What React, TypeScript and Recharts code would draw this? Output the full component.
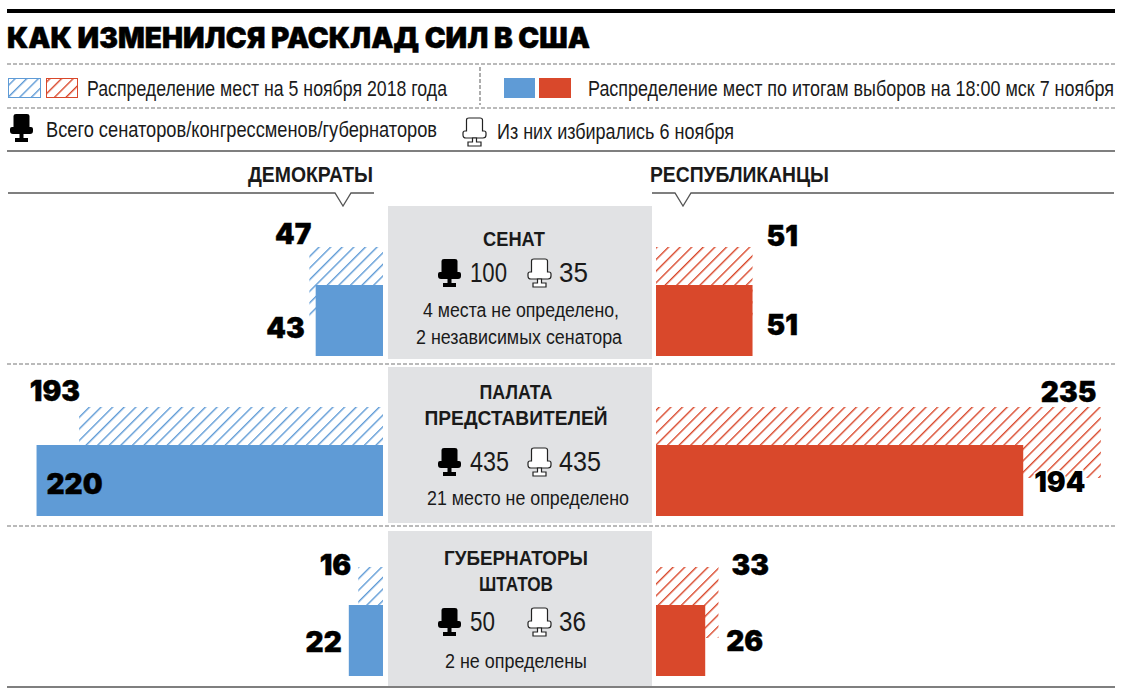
import { BarChart, Bar, XAxis, YAxis, LabelList } from "recharts";

const chambers = ["Сенат", "Палата представителей", "Губернаторы штатов"];
const demBefore = [47, 193, 16];
const demAfter = [43, 220, 22];
const repBefore = [51, 235, 33];
const repAfter = [51, 194, 26];
const panelTitles = [["СЕНАТ"], ["ПАЛАТА", "ПРЕДСТАВИТЕЛЕЙ"], ["ГУБЕРНАТОРЫ", "ШТАТОВ"]];
const totalSeats = [100, 435, 50];
const electedSeats = [35, 435, 36];
const panelNotes = [
  ["4 места не определено,", "2 независимых сенатора"],
  ["21 место не определено"],
  ["2 не определены"],
];

const BLUE = "#5f9bd6";
const RED = "#d9482b";
const PANEL = "#e1e2e4";
// no narrow face is installed, so the condensed look comes from a horizontal squeeze
const BODY = "'Liberation Sans', sans-serif";
const HEAVY = "Inter, 'Liberation Sans', sans-serif";
const SQUEEZE = 0.8;

const demData = chambers.map((name, i) => ({ name, before: demBefore[i], after: demAfter[i] }));
const repData = chambers.map((name, i) => ({ name, before: repBefore[i], after: repAfter[i] }));

// label placement per bar: [dx from the bar's outer edge, dy from its top edge]
const demBeforeOffsets = [[2, -3], [1, -6], [-7, 8]];
const demAfterOffsets = [[-11, 53], [66, 49], [-7, 47]];
const repBeforeOffsets = [[14, -1], [-60, -5], [13, 8]];
const repAfterOffsets = [[14, 50], [11, 47], [21, 46]];

function valueLabel(offsets: number[][], side: "left" | "right", haloIndex = -1) {
  return (props: any) => {
    const { x, y, width, value, index } = props;
    const edge = side === "left" ? Math.min(x, x + width) : Math.max(x, x + width);
    const [dx, dy] = offsets[index];
    const halo = index === haloIndex;
    return (
      <text
        x={edge + dx}
        y={y + dy}
        textAnchor={side === "left" ? "end" : "start"}
        fontFamily={HEAVY}
        fontWeight={900}
        fontSize={28}
        fill="#000"
        stroke={halo ? "#fff" : "#000"}
        strokeWidth={halo ? 3 : 0.4}
        paintOrder="stroke"
      >
        {value}
      </text>
    );
  };
}

function Hatch({ id, color }: { id: string; color: string }) {
  return (
    <pattern id={id} width="8.2" height="8.2" patternUnits="userSpaceOnUse" patternTransform="rotate(-45)">
      <rect width="8.2" height="1.4" fill={color} />
    </pattern>
  );
}

function Chair({ x, y, filled }: { x: number; y: number; filled?: boolean }) {
  const fill = filled ? "#000" : "#fff";
  const stroke = filled ? "none" : "#222";
  return (
    <g transform={`translate(${x},${y})`} fill={fill} stroke={stroke} strokeWidth={1.2}>
      <path d="M3.5 2 Q3.5 0 6 0 H17 Q19.5 0 19.5 2 V13 H21 Q23 13 23 15 V17 Q23 20 20 20 H3 Q0 20 0 17 V15 Q0 13 2 13 H3.5 Z" />
      <path d="M9.5 20 H13.5 V24 H18 V28 H5 V24 H9.5 Z" />
    </g>
  );
}

function Line({ x1, y1, x2, y2, dashed, w = 1.2 }: any) {
  return (
    <line x1={x1} y1={y1} x2={x2} y2={y2} stroke={dashed ? "#777" : "#555"} strokeWidth={w} strokeDasharray={dashed ? "4 2" : undefined} />
  );
}

function Txt({ x, y, size = 22, bold, anchor = "start", w, children }: any) {
  return (
    <text
      transform={`translate(${x},${y}) scale(${SQUEEZE},1)`}
      fontFamily={BODY}
      fontSize={size}
      fontWeight={bold ? 700 : 400}
      textAnchor={anchor}
      textLength={w / SQUEEZE}
      lengthAdjust="spacingAndGlyphs"
      fill="#1a1a1a"
    >
      {children}
    </text>
  );
}

const panelBoxes = [[206, 153], [367, 156], [531, 155]];
const titleBaselines = [[246], [399, 425], [565, 591]];
const titleCentres = [514, 516, 516];
const titleWidths = [[62], [73, 183], [144, 74]];
const statBaselines = [282, 471, 631];
const totalWidths = [37, 39, 25];
const electedWidths = [29, 42, 27];
const noteBaselines = [[317, 344], [505], [668]];
const noteCentres = [[521, 519], [528], [516]];
const noteWidths = [[196, 206], [202], [142]];

function Panel({ i }: { i: number }) {
  const [top, h] = panelBoxes[i];
  const sy = statBaselines[i];
  return (
    <g>
      <rect x={388} y={top} width={264} height={h} fill={PANEL} />
      {panelTitles[i].map((t, k) => (
        <Txt key={t} x={titleCentres[i]} y={titleBaselines[i][k]} size={21} bold anchor="middle" w={titleWidths[i][k]}>{t}</Txt>
      ))}
      <Chair x={438} y={sy - 23} filled />
      <Txt x={470} y={sy} size={28} w={totalWidths[i]}>{totalSeats[i]}</Txt>
      <Chair x={528} y={sy - 23} />
      <Txt x={559} y={sy} size={28} w={electedWidths[i]}>{electedSeats[i]}</Txt>
      {panelNotes[i].map((t, k) => (
        <Txt key={t} x={noteCentres[i][k]} y={noteBaselines[i][k]} size={21} anchor="middle" w={noteWidths[i][k]}>{t}</Txt>
      ))}
    </g>
  );
}

function Side({ data, left, width, reversed, id, color, beforeOffsets, afterOffsets, side, haloIndex }: any) {
  return (
    <div style={{ position: "absolute", left, top: 189 }}>
      <BarChart
        width={width}
        height={512}
        data={data}
        layout="vertical"
        margin={{ top: 32, right: 0, bottom: 0, left: 0 }}
        barSize={71}
        barGap={-33}
        style={{ overflow: "visible" }}
      >
        <defs>
          <Hatch id={id} color={color} />
        </defs>
        <XAxis type="number" domain={[0, 240]} reversed={reversed} hide />
        <YAxis type="category" dataKey="name" hide />
        <Bar dataKey="before" fill={`url(#${id})`} isAnimationActive={false}>
          <LabelList dataKey="before" content={valueLabel(beforeOffsets, side)} />
        </Bar>
        <Bar dataKey="after" fill={color} isAnimationActive={false}>
          <LabelList dataKey="after" content={valueLabel(afterOffsets, side, haloIndex)} />
        </Bar>
      </BarChart>
    </div>
  );
}

export default function App() {
  return (
    <div style={{ position: "absolute", left: 0, top: 0, width: 1127, height: 696, overflow: "hidden", background: "#fff" }}>
      <svg width={1127} height={696} style={{ position: "absolute", left: 0, top: 0 }}>
        <defs>
          <Hatch id="legendBlue" color={BLUE} />
          <Hatch id="legendRed" color={RED} />
        </defs>
        <rect x={7} y={9} width={1108} height={4} fill="#000" />
        <text
          x={7}
          y={48}
          fontFamily={HEAVY}
          fontWeight={900}
          fontSize={28}
          fill="#000"
          stroke="#000"
          strokeWidth={0.5}
          textLength={583}
          lengthAdjust="spacing"
        >
          КАК ИЗМЕНИЛСЯ РАСКЛАД СИЛ В США
        </text>
        <Line x1={7} y1={64} x2={1115} y2={64} dashed />
        <Line x1={7} y1={108} x2={1115} y2={108} dashed />
        <Line x1={480} y1={67} x2={480} y2={105} dashed />
        <Line x1={7} y1={151} x2={1115} y2={151} w={1.5} />

        <rect x={8.5} y={78.5} width={32} height={19} fill="url(#legendBlue)" stroke={BLUE} />
        <rect x={46.5} y={78.5} width={31} height={19} fill="url(#legendRed)" stroke={RED} />
        <Txt x={87} y={96} w={360}>Распределение мест на 5 ноября 2018 года</Txt>
        <rect x={504} y={78} width={31} height={20} fill={BLUE} />
        <rect x={539} y={78} width={32} height={20} fill={RED} />
        <Txt x={588} y={96} w={526}>Распределение мест по итогам выборов на 18:00 мск 7 ноября</Txt>

        <Chair x={10} y={114} filled />
        <Txt x={46} y={137} w={391}>Всего сенаторов/конгрессменов/губернаторов</Txt>
        <Chair x={463} y={118} />
        <Txt x={497} y={139} w={237}>Из них избирались 6 ноября</Txt>

        <Txt x={248} y={182} bold w={125}>ДЕМОКРАТЫ</Txt>
        <polyline points="8,193 335,193 343,206 351,193 374,193" fill="none" stroke="#555" strokeWidth={1.3} />
        <Txt x={650} y={182} bold w={179}>РЕСПУБЛИКАНЦЫ</Txt>
        <polyline points="652,193 675,193 683,206 691,193 1114,193" fill="none" stroke="#555" strokeWidth={1.3} />

        {chambers.map((c, i) => (
          <Panel key={c} i={i} />
        ))}
        <Line x1={7} y1={364} x2={1115} y2={364} dashed />
        <Line x1={7} y1={526} x2={1115} y2={526} dashed />
        <Line x1={7} y1={687} x2={1115} y2={687} w={1.5} />
      </svg>
      <Side data={demData} left={4.5} width={378.5} reversed id="hatchBlue" color={BLUE} beforeOffsets={demBeforeOffsets} afterOffsets={demAfterOffsets} side="left" />
      <Side data={repData} left={656} width={454.3} id="hatchRed" color={RED} beforeOffsets={repBeforeOffsets} afterOffsets={repAfterOffsets} side="right" haloIndex={1} />
    </div>
  );
}
